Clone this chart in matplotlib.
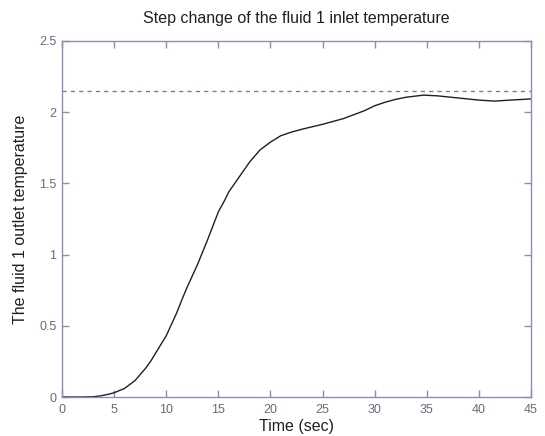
import matplotlib
matplotlib.use("Agg")
import matplotlib.pyplot as plt

# response of fluid 1 outlet temperature after the inlet step
time_s = [0, 1, 2, 3, 3.7, 4.5, 5, 6, 7, 8, 8.5, 9, 10, 11, 11.6, 12, 13, 14,
          15, 15.6, 16, 17, 18, 19, 20, 21, 22, 23, 25, 27, 29, 30, 31, 32, 33,
          34.7, 36, 38, 40, 41.5, 43, 45]
outlet_temp = [0, 0, 0, 0.002, 0.008, 0.02, 0.03, 0.06, 0.115, 0.2, 0.25, 0.31,
               0.43, 0.59, 0.70, 0.77, 0.93, 1.11, 1.30, 1.38, 1.44, 1.545, 1.65,
               1.735, 1.79, 1.835, 1.86, 1.88, 1.915, 1.955, 2.01, 2.045, 2.07,
               2.09, 2.105, 2.12, 2.115, 2.10, 2.085, 2.078, 2.085, 2.093]
steady_value = 2.15

x_ticks = list(range(0, 50, 5))
y_ticks = [0, 0.5, 1, 1.5, 2, 2.5]
y_labels = ["0", "0.5", "1", "1.5", "2", "2.5"]

plt.rcParams["font.family"] = ["Liberation Sans", "DejaVu Sans"]
axis_col = "#8e8eae"
label_col = "#6a6a80"

fig = plt.figure(figsize=(5.45, 4.36), dpi=100)
ax = fig.add_axes([62 / 545, 1 - 397 / 436, 469 / 545, 356 / 436])

ax.plot(time_s, outlet_temp, color="#202020", linewidth=1.0)
ax.axhline(steady_value, color="#7a7a9a", linewidth=1.0, linestyle=(0, (3, 3)))

ax.set_xlim(0, 45)
ax.set_ylim(0, 2.5)
ax.set_xticks(x_ticks)
ax.set_yticks(y_ticks)
ax.set_yticklabels(y_labels)

for s in ax.spines.values():
    s.set_color(axis_col)
    s.set_linewidth(1.0)
ax.tick_params(direction="in", length=5, width=1, colors=axis_col,
               labelcolor=label_col, labelsize=9, top=True, right=True)
ax.tick_params(axis="x", pad=5)
ax.tick_params(axis="y", pad=4)

ax.set_title("Step change of the fluid 1 inlet temperature", fontsize=11.5,
             color="#202020", pad=13)
ax.set_xlabel("Time (sec)", fontsize=11.5, color="#202020", labelpad=2)
ax.set_ylabel("The fluid 1 outlet temperature", fontsize=11.5, color="#202020",
              labelpad=8)

fig.savefig("out.png", dpi=100, facecolor="white")
